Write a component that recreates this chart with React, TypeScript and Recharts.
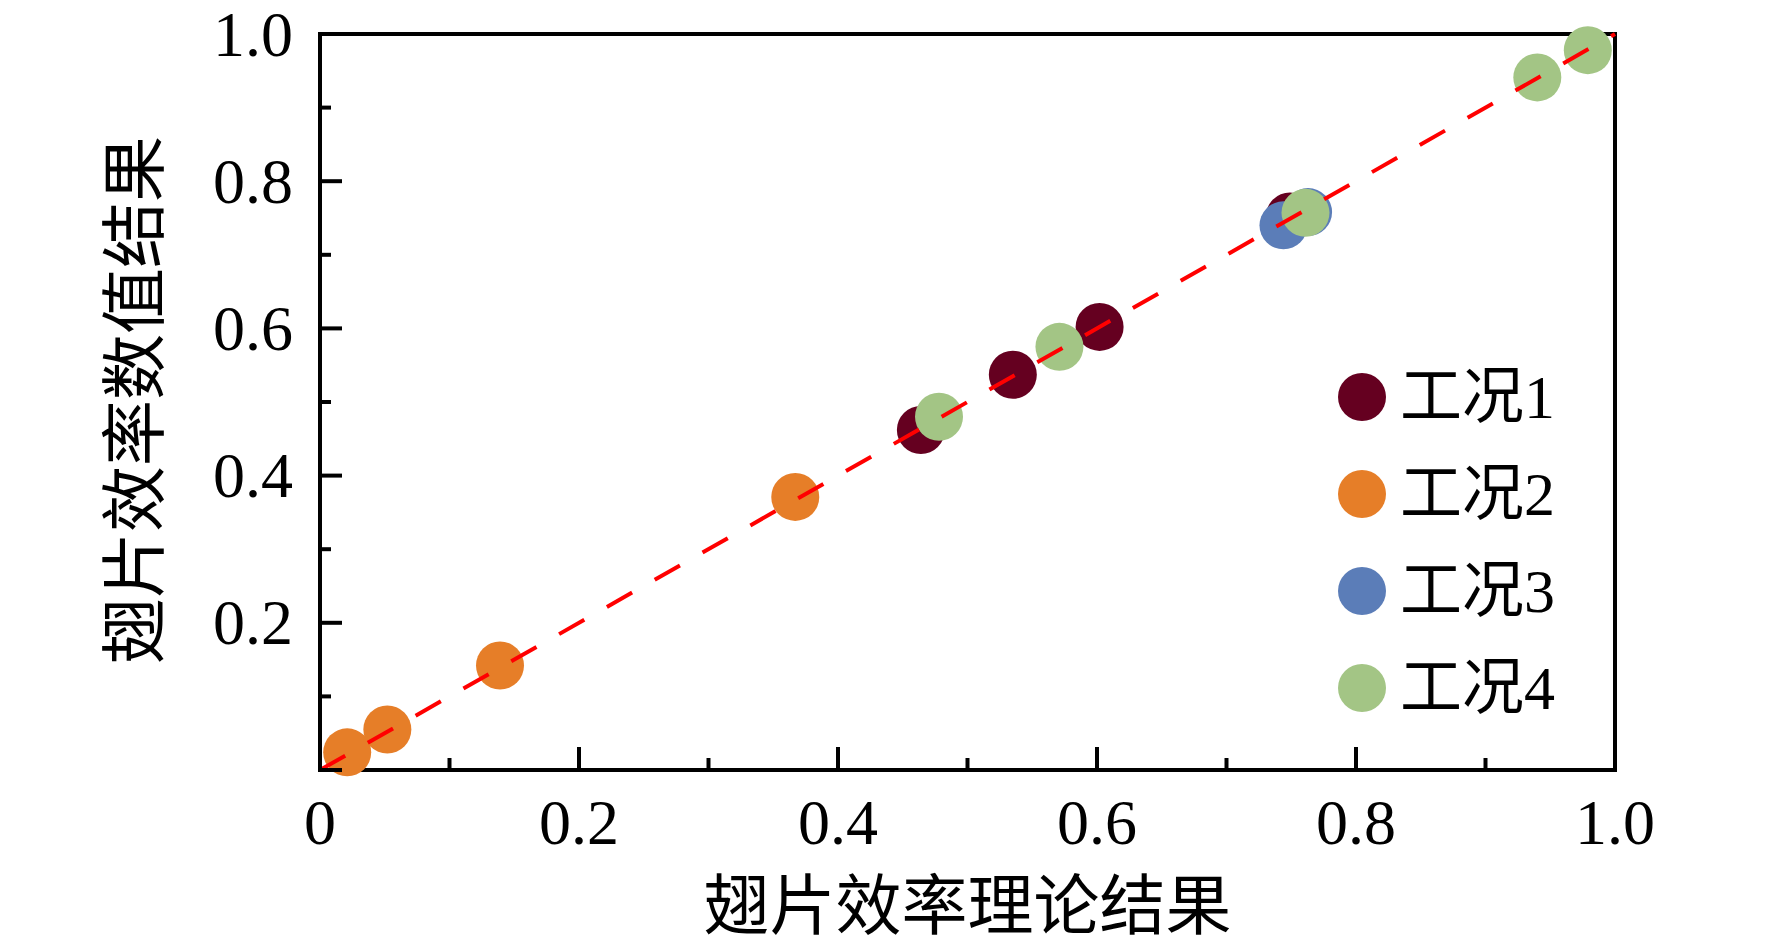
import React from "react";
import { ScatterChart, Scatter, XAxis, YAxis, Legend, ReferenceLine } from "recharts";

const FONT = "'Liberation Serif', 'Times New Roman', 'Noto Sans CJK SC', serif";

// tick positions (0.1 steps, labels every 0.2)
const axisTicks = [0, 0.1, 0.2, 0.3, 0.4, 0.5, 0.6, 0.7, 0.8, 0.9, 1.0];

const seriesNames = ["工况1", "工况2", "工况3", "工况4"];
const seriesColors = ["#650020", "#E67E28", "#5B7DB8", "#A3C585"];

// 理论结果 (x) vs 数值结果 (y)
const case1X = [0.464, 0.535, 0.602, 0.749];
const case1Y = [0.462, 0.537, 0.602, 0.752];
const case2X = [0.021, 0.052, 0.139, 0.367];
const case2Y = [0.024, 0.055, 0.142, 0.371];
const case3X = [0.744, 0.763];
const case3Y = [0.740, 0.758];
const case4X = [0.478, 0.571, 0.761, 0.940, 0.979];
const case4Y = [0.480, 0.575, 0.757, 0.941, 0.978];

const diagonalX = [0, 1];
const diagonalY = [0, 1];

const toPoints = (xs: number[], ys: number[]) => xs.map((x, i) => ({ x, y: ys[i] }));

const seriesData = [
  toPoints(case1X, case1Y),
  toPoints(case2X, case2Y),
  toPoints(case3X, case3Y),
  toPoints(case4X, case4Y),
];

const isMajor = (v: number) => Math.round(v * 10) % 2 === 0;
const fmt = (v: number) => (v === 0 ? "0" : v.toFixed(1));

const XTick = (props: any) => {
  const { x, y, payload } = props;
  const v = payload.value;
  const major = isMajor(v);
  return (
    <g>
      <line x1={x} x2={x} y1={y} y2={y - (major ? 23 : 12)} stroke="#000" strokeWidth={4} />
      {major && (
        <text x={x} y={y + 52} textAnchor="middle" dominantBaseline="central" fontSize={64} fontFamily={FONT} fill="#000">
          {fmt(v)}
        </text>
      )}
    </g>
  );
};

const YTick = (props: any) => {
  const { x, y, payload } = props;
  const v = payload.value;
  const major = isMajor(v);
  return (
    <g>
      <line x1={x} x2={x + (major ? 22 : 11)} y1={y} y2={y} stroke="#000" strokeWidth={4} />
      {major && v !== 0 && (
        <text x={x - 27} y={y} textAnchor="end" dominantBaseline="central" fontSize={64} fontFamily={FONT} fill="#000">
          {fmt(v)}
        </text>
      )}
    </g>
  );
};

const XTitle = (props: any) => {
  const vb = props.viewBox;
  return (
    <text x={vb.x + vb.width / 2} y={vb.y + 136} textAnchor="middle" dominantBaseline="central" fontSize={66} fontFamily={FONT} fill="#000">
      翅片效率理论结果
    </text>
  );
};

const YTitle = (props: any) => {
  const vb = props.viewBox;
  const cx = vb.x + vb.width - 185;
  const cy = vb.y + vb.height / 2 - 2;
  return (
    <text x={cx} y={cy} transform={`rotate(-90, ${cx}, ${cy})`} textAnchor="middle" dominantBaseline="central" fontSize={66} fontFamily={FONT} fill="#000">
      翅片效率数值结果
    </text>
  );
};

const renderLegend = () => (
  <div style={{ fontFamily: FONT }}>
    {seriesNames.map((n, i) => (
      <div key={n} style={{ display: "flex", alignItems: "center", height: 97 }}>
        <svg width={48} height={48}>
          <circle cx={24} cy={24} r={24} fill={seriesColors[i]} />
        </svg>
        <span style={{ marginLeft: 14, fontSize: 62, lineHeight: "62px", color: "#000" }}>{n}</span>
      </div>
    ))}
  </div>
);

const boxLine = { stroke: "#000", strokeWidth: 4, strokeLinecap: "square" as const };

export default function App() {
  return (
    <div style={{ width: 1764, height: 938, background: "#fff", fontFamily: FONT }}>
      <style>{`.recharts-surface { overflow: visible; }`}</style>
      <ScatterChart width={1764} height={938} margin={{ top: 26, right: 157, bottom: 56, left: 112 }}>
        <XAxis
          dataKey="x"
          type="number"
          domain={[0, 1]}
          ticks={axisTicks}
          interval={0}
          height={120}
          tickSize={0}
          tickMargin={0}
          tickLine={false}
          tick={<XTick />}
          axisLine={boxLine}
          label={XTitle}
        />
        <YAxis
          dataKey="y"
          type="number"
          domain={[0, 1]}
          ticks={axisTicks}
          interval={0}
          width={200}
          tickSize={0}
          tickMargin={0}
          tickLine={false}
          tick={<YTick />}
          axisLine={boxLine}
          label={YTitle}
        />
        <ReferenceLine y={1} stroke="#000" strokeWidth={4} strokeLinecap="square" />
        <ReferenceLine x={1} stroke="#000" strokeWidth={4} strokeLinecap="square" />
        {seriesData.map((d, i) => (
          <Scatter
            key={seriesNames[i]}
            name={seriesNames[i]}
            data={d}
            fill={seriesColors[i]}
            isAnimationActive={false}
            shape={(p: any) => <circle cx={p.cx} cy={p.cy} r={24} fill={seriesColors[i]} />}
          />
        ))}
        <Scatter
          name="diagonal"
          data={toPoints(diagonalX, diagonalY)}
          legendType="none"
          isAnimationActive={false}
          line={{ stroke: "#FF0000", strokeWidth: 4, strokeDasharray: "29 26" }}
          shape={() => <g />}
        />
        <Legend
          layout="vertical"
          align="center"
          verticalAlign="middle"
          content={renderLegend}
          wrapperStyle={{ left: 1330, top: 340, width: 260 }}
        />
      </ScatterChart>
    </div>
  );
}
